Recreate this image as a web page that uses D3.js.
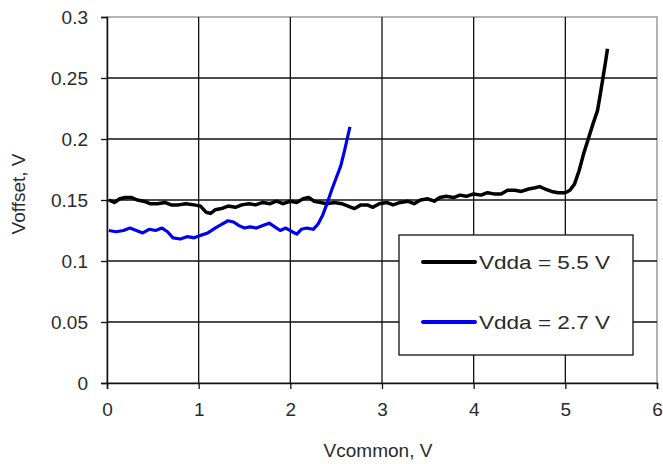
<!DOCTYPE html>
<html><head><meta charset="utf-8">
<script src="https://cdn.jsdelivr.net/npm/d3@7"></script>
<style>
html,body{margin:0;padding:0;background:#fff;}
svg text{font-family:"Liberation Sans",Arial,sans-serif;fill:#2a2a2a;}
</style></head>
<body><svg id="c" width="663" height="464"></svg>
<script>
const xTicks = [0,1,2,3,4,5,6];
const yTicks = [0,0.05,0.1,0.15,0.2,0.25,0.3];
const yTickLabels = ["0","0.05","0.1","0.15","0.2","0.25","0.3"];
const seriesNames = ["Vdda = 5.5 V","Vdda = 2.7 V"];
const seriesColors = ["#000000","#0000ee"];
const vcomm55 = [0.02,0.08,0.14,0.2,0.27,0.33,0.4,0.47,0.55,0.63,0.7,0.78,0.86,0.95,1.02,1.08,1.13,1.18,1.25,1.32,1.4,1.47,1.55,1.62,1.7,1.78,1.85,1.92,2.0,2.07,2.14,2.2,2.26,2.33,2.4,2.48,2.56,2.63,2.7,2.77,2.84,2.9,2.97,3.05,3.12,3.2,3.28,3.35,3.42,3.5,3.57,3.63,3.7,3.78,3.85,3.92,4.0,4.08,4.15,4.22,4.3,4.37,4.45,4.52,4.6,4.67,4.72,4.78,4.85,4.92,5.0,5.05,5.1,5.15,5.2,5.25,5.3,5.35,5.38,5.41,5.44,5.46];
const voff55 = [0.150,0.148,0.151,0.152,0.152,0.150,0.149,0.147,0.147,0.148,0.146,0.146,0.147,0.146,0.145,0.140,0.139,0.142,0.143,0.145,0.144,0.146,0.147,0.146,0.148,0.147,0.149,0.147,0.149,0.148,0.151,0.152,0.149,0.148,0.147,0.148,0.147,0.145,0.143,0.146,0.146,0.144,0.147,0.148,0.146,0.148,0.149,0.147,0.150,0.151,0.149,0.152,0.153,0.152,0.154,0.153,0.155,0.154,0.156,0.155,0.155,0.158,0.158,0.157,0.159,0.160,0.161,0.159,0.157,0.156,0.156,0.158,0.163,0.174,0.188,0.200,0.212,0.223,0.236,0.250,0.264,0.274];
const vcomm27 = [0.02,0.1,0.18,0.25,0.32,0.39,0.46,0.53,0.6,0.66,0.72,0.8,0.88,0.95,1.02,1.1,1.18,1.25,1.32,1.38,1.44,1.5,1.56,1.63,1.7,1.77,1.83,1.89,1.95,2.02,2.07,2.12,2.18,2.25,2.3,2.35,2.4,2.45,2.5,2.55,2.59,2.62,2.65];
const voff27 = [0.125,0.124,0.125,0.127,0.125,0.123,0.126,0.125,0.127,0.124,0.119,0.118,0.120,0.119,0.121,0.123,0.127,0.130,0.133,0.132,0.129,0.127,0.128,0.127,0.129,0.131,0.128,0.125,0.127,0.124,0.122,0.126,0.127,0.126,0.130,0.137,0.147,0.158,0.168,0.178,0.190,0.200,0.210];

const svg = d3.select("#c");
const L=107,R=657,T=17,B=383;
const x = d3.scaleLinear().domain([0,6]).range([L,R]);
const y = d3.scaleLinear().domain([0,0.3]).range([B,T]);

svg.append("rect").attr("x",L).attr("y",T).attr("width",R-L).attr("height",B-T)
  .attr("fill","#fff").attr("stroke","#9a9a9a").attr("stroke-width",1.5);

const g = svg.append("g");
g.selectAll("line.h").data(yTicks.filter(d=>d>0&&d<0.3)).join("line")
  .attr("x1",L).attr("x2",R).attr("y1",d=>y(d)).attr("y2",d=>y(d))
  .attr("stroke","#111").attr("stroke-width",1.3);
g.selectAll("line.v").data(xTicks.filter(d=>d>0&&d<6)).join("line")
  .attr("y1",T).attr("y2",B).attr("x1",d=>x(d)).attr("x2",d=>x(d))
  .attr("stroke","#111").attr("stroke-width",1.3);

const xAxis = d3.axisBottom(x).tickValues(xTicks).tickSize(6).tickPadding(13).tickFormat(d3.format("d"));
const yAxis = d3.axisLeft(y).tickValues(yTicks).tickSize(6).tickPadding(13).tickFormat((d,i)=>yTickLabels[i]);
const gx = svg.append("g").attr("transform",`translate(0,${B})`).call(xAxis);
const gy = svg.append("g").attr("transform",`translate(${L},0)`).call(yAxis);
[gx,gy].forEach(a=>{
  a.select(".domain").attr("stroke","#111").attr("stroke-width",1.5);
  a.selectAll(".tick line").attr("stroke","#111").attr("stroke-width",1.3);
  a.selectAll("text").attr("font-size",19).attr("fill","#2a2a2a").style("font-family","'Liberation Sans',Arial,sans-serif");
});
gx.selectAll("text").attr("dy","0.75em");

svg.append("text").attr("x",378).attr("y",457).attr("text-anchor","middle").attr("font-size",19).text("Vcommon, V");
svg.append("text").attr("transform","translate(25,194) rotate(-90)").attr("text-anchor","middle").attr("font-size",19).text("Voffset, V");

const line = d3.line().x(d=>x(d[0])).y(d=>y(d[1])).curve(d3.curveLinear);
const data55 = vcomm55.map((v,i)=>[v,voff55[i]]);
const data27 = vcomm27.map((v,i)=>[v,voff27[i]]);
svg.append("path").datum(data55).attr("d",line).attr("fill","none").attr("stroke",seriesColors[0]).attr("stroke-width",3.5).attr("stroke-linejoin","round");
svg.append("path").datum(data27).attr("d",line).attr("fill","none").attr("stroke",seriesColors[1]).attr("stroke-width",3.2).attr("stroke-linejoin","round");

const lg = svg.append("g");
lg.append("rect").attr("x",399).attr("y",235).attr("width",234).attr("height",120)
  .attr("fill","#fff").attr("stroke","#111").attr("stroke-width",1.3);
const ly = [262,322];
seriesNames.forEach((n,i)=>{
  lg.append("line").attr("x1",423).attr("x2",475).attr("y1",ly[i]).attr("y2",ly[i])
    .attr("stroke",seriesColors[i]).attr("stroke-width",4).attr("stroke-linecap","round");
  lg.append("text").attr("x",479).attr("y",ly[i]+7).attr("font-size",19)
    .attr("textLength",131).attr("lengthAdjust","spacingAndGlyphs").text(n);
});
</script></body></html>
